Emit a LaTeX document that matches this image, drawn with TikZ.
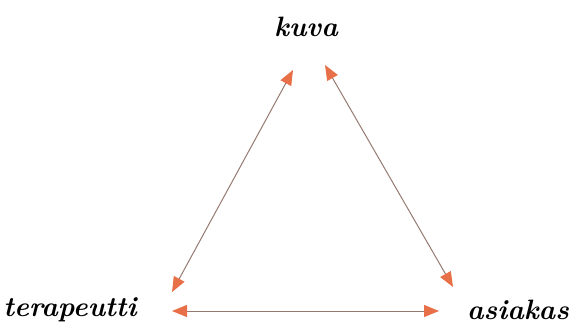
\documentclass[tikz,border=0pt]{standalone}
\usetikzlibrary{arrows.meta}
\definecolor{tipor}{RGB}{232,112,72}
\definecolor{linebr}{RGB}{150,122,112}
\tikzset{
  label/.style={font=\fontsize{28}{32}\selectfont\bfseries\itshape, inner sep=0pt},
  link/.style={linebr, line width=1pt, {Triangle[length=15pt, width=12pt, color=tipor]}-{Triangle[length=15pt, width=12pt, color=tipor]}}
}
\begin{document}
\begin{tikzpicture}[x=1pt, y=-1pt]
\useasboundingbox (0,0) rectangle (569,331);
\node[label] (kuva) at (306,27) {kuva};
\node[label] (terapeutti) at (70,310) {terapeutti};
\node[label] (asiakas) at (518,310) {asiakas};
\coordinate (kuvaL) at (293,70);
\coordinate (kuvaR) at (325,65);
\coordinate (terT) at (172,292);
\coordinate (terR) at (172,311);
\coordinate (asiT) at (453,287);
\coordinate (asiL) at (439,311);
\draw[link] (terT) -- (kuvaL);
\draw[link] (kuvaR) -- (asiT);
\draw[link] (terR) -- (asiL);
\end{tikzpicture}
\end{document}
